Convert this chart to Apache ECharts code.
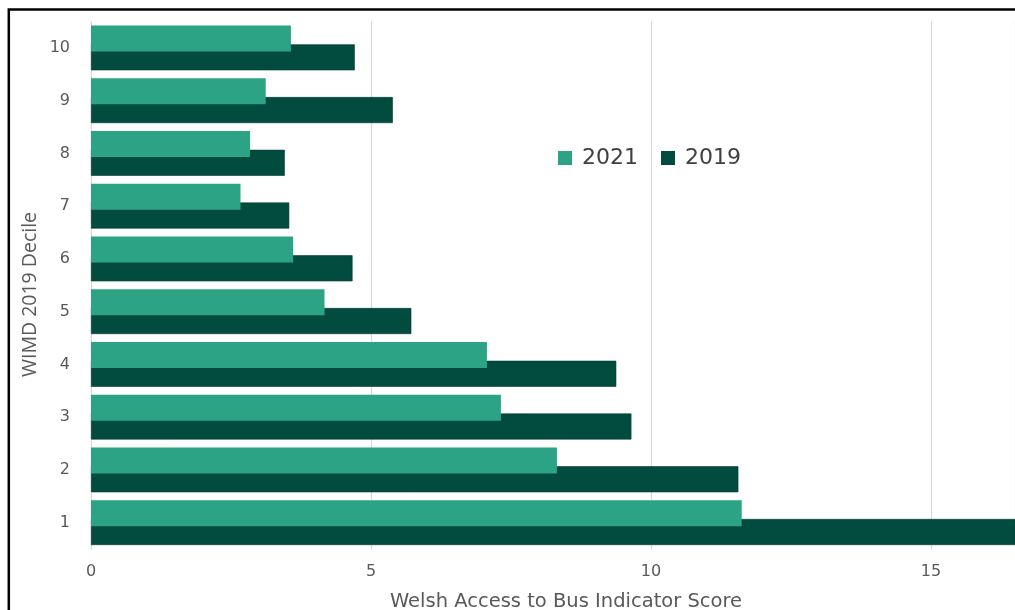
<!DOCTYPE html>
<html>
<head>
<meta charset="utf-8">
<script src="https://cdn.jsdelivr.net/npm/echarts@6/dist/echarts.min.js"></script>
<style>
  html, body { margin: 0; padding: 0; background: #fff; }
  #chart { width: 1015px; height: 610px; }
</style>
</head>
<body>
<div id="chart"></div>
<script>
// WIMD 2019 deciles (1 = most deprived), bottom to top
const deciles = ['1', '2', '3', '4', '5', '6', '7', '8', '9', '10'];
// Welsh Access to Bus Indicator score by decile
const score2021 = [11.62, 8.32, 7.32, 7.07, 4.17, 3.61, 2.67, 2.84, 3.12, 3.57];
const score2019 = [16.9, 11.56, 9.65, 9.38, 5.72, 4.67, 3.54, 3.46, 5.39, 4.71];
const xTicks = { min: 0, max: 16.5, interval: 5 };

const textColor = '#595959';
const font = '"DejaVu Sans", "Noto Sans", sans-serif';

const chart = echarts.init(document.getElementById('chart'), null, { renderer: 'canvas' });
chart.setOption({
  animation: false,
  backgroundColor: '#ffffff',
  legend: {
    data: ['2021', '2019'],
    left: 553,
    top: 142,
    itemWidth: 14,
    itemHeight: 14,
    itemGap: 23,
    icon: 'rect',
    itemStyle: { borderWidth: 0 },
    textStyle: { color: '#404040', fontSize: 22, fontFamily: font, padding: [0, 0, 0, 5] }
  },
  grid: { left: 91, top: 21.6, right: 0, height: 527.4, containLabel: false },
  xAxis: {
    type: 'value',
    min: xTicks.min,
    max: xTicks.max,
    interval: xTicks.interval,
    axisLine: { show: false },
    axisTick: { show: false },
    splitLine: { show: true, lineStyle: { color: '#d9d9d9', width: 1.2 } },
    axisLabel: { color: textColor, fontSize: 16, fontFamily: font, margin: 15, showMaxLabel: false }
  },
  yAxis: {
    type: 'category',
    data: deciles,
    axisLine: { show: true, lineStyle: { color: '#d9d9d9', width: 1.2 } },
    axisTick: { show: false },
    axisLabel: { color: textColor, fontSize: 16, fontFamily: font, margin: 21 }
  },
  series: [
    {
      name: '2021',
      type: 'bar',
      data: score2021,
      barWidth: 26,
      barGap: '-28%',
      z: 3,
      itemStyle: { color: '#2ca384' }
    },
    {
      name: '2019',
      type: 'bar',
      data: score2019,
      barWidth: 26,
      barGap: '-28%',
      z: 2,
      itemStyle: { color: '#024b3f', borderColor: '#013a30', borderWidth: 0.6 }
    }
  ],
  graphic: [
    {
      type: 'rect',
      silent: true,
      z: 100,
      shape: { x: 8.8, y: 9.5, width: 1300, height: 900 },
      style: { fill: 'none', stroke: '#000', lineWidth: 2.5 }
    },
    {
      type: 'text',
      silent: true,
      x: 566,
      y: 602,
      style: {
        text: 'Welsh Access to Bus Indicator Score',
        fill: textColor,
        font: '19.5px ' + font,
        textAlign: 'center',
        textVerticalAlign: 'middle'
      }
    },
    {
      type: 'text',
      silent: true,
      x: 30,
      y: 294.5,
      rotation: Math.PI / 2,
      style: {
        text: 'WIMD 2019 Decile',
        fill: textColor,
        font: '19.5px "Open Sans", sans-serif',
        textAlign: 'center',
        textVerticalAlign: 'middle'
      }
    }
  ]
});
</script>
</body>
</html>
